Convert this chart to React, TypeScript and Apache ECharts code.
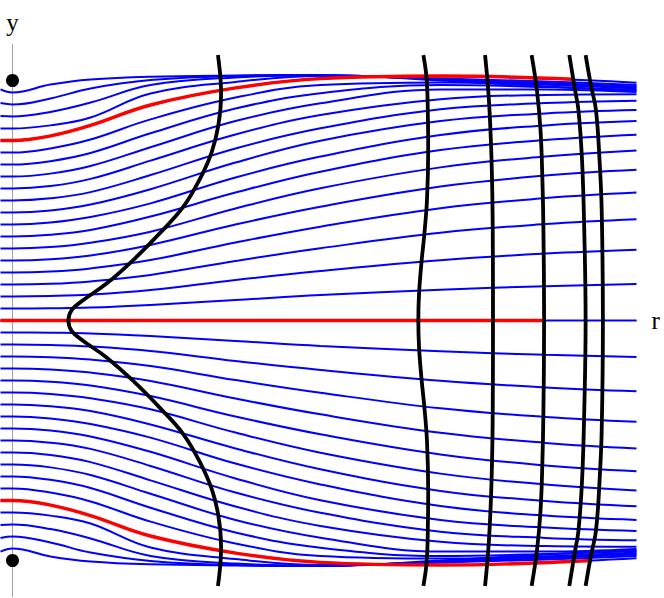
import React, { useEffect, useRef } from "react";
import * as echarts from "echarts";

const R_SAMPLES = [-0.05, 0, 0.158, 0.325, 0.575, 0.929, 1.283, 1.783, 2.221, 2.6];

// blue curves of the upper half (start heights 0.05 … 0.95); y at R_SAMPLES
const BLUE_UPPER: number[][] = [
  [0.05, 0.05, 0.051, 0.054, 0.065, 0.085, 0.106, 0.128, 0.143, 0.152],
  [0.1, 0.1, 0.102, 0.108, 0.127, 0.169, 0.206, 0.251, 0.279, 0.295],
  [0.15, 0.15, 0.153, 0.163, 0.19, 0.248, 0.301, 0.366, 0.402, 0.422],
  [0.2, 0.2, 0.204, 0.217, 0.252, 0.325, 0.391, 0.468, 0.51, 0.533],
  [0.25, 0.25, 0.255, 0.271, 0.315, 0.4, 0.474, 0.558, 0.604, 0.628],
  [0.3, 0.3, 0.306, 0.324, 0.37, 0.467, 0.551, 0.638, 0.683, 0.708],
  [0.35, 0.35, 0.357, 0.377, 0.433, 0.533, 0.62, 0.71, 0.752, 0.774],
  [0.4, 0.4, 0.408, 0.431, 0.488, 0.596, 0.683, 0.773, 0.813, 0.831],
  [0.45, 0.45, 0.458, 0.483, 0.547, 0.658, 0.749, 0.831, 0.863, 0.877],
  [0.5, 0.5, 0.509, 0.535, 0.606, 0.717, 0.801, 0.88, 0.906, 0.916],
  [0.55, 0.55, 0.56, 0.59, 0.666, 0.775, 0.856, 0.922, 0.94, 0.943],
  [0.6, 0.6, 0.612, 0.644, 0.722, 0.831, 0.905, 0.963, 0.963, 0.952],
  [0.65, 0.65, 0.664, 0.698, 0.78, 0.883, 0.947, 0.981, 0.973, 0.96],
  [0.7, 0.7, 0.717, 0.754, 0.838, 0.929, 0.981, 0.992, 0.983, 0.972],
  [0.75, 0.75, 0.769, 0.813, 0.898, 0.969, 1.008, 1.019, 1.008, 0.991],
  [0.8, 0.8, 0.813, 0.846, 0.946, 0.994, 1.019, 1.008, 0.996, 0.981],
  [0.852, 0.85, 0.869, 0.908, 0.981, 1.013, 1.021, 1.006, 0.99, 0.975],
  [0.906, 0.9, 0.925, 0.967, 1.002, 1.019, 1.022, 1.004, 0.983, 0.967],
  [0.963, 0.95, 0.983, 1.004, 1.016, 1.021, 1.023, 1.0, 0.975, 0.958],
];

// the blue family is mirror-symmetric about y = 0 in the picture
const BLUE_CENTER = [0, 0, 0, 0, 0, 0, 0, 0, 0, 0];

// red rays
const RED_TOP_R = [-0.05, 0, 0.158, 0.325, 0.575, 0.929, 1.283, 1.783, 2.335];
const RED_TOP_Y = [0.75, 0.75, 0.769, 0.813, 0.898, 0.969, 1.008, 1.019, 1.005];
const RED_BOTTOM_R = [-0.05, 0, 0.158, 0.325, 0.575, 0.929, 1.283, 1.783, 2.415];
const RED_BOTTOM_Y = [-0.75, -0.75, -0.769, -0.813, -0.898, -0.969, -1.008, -1.019, -1.0];
const RED_MID_R = [-0.05, 2.219];
const RED_MID_Y = [0, 0];

// black fronts: upper half [r, y], from the top end down to the axis
const FRONT_A: number[][] = [
  [0.856, 1.106], [0.868, 0.988], [0.869, 0.94], [0.858, 0.815], [0.83, 0.702],
  [0.781, 0.59], [0.712, 0.474], [0.615, 0.365], [0.503, 0.252], [0.393, 0.155],
  [0.295, 0.085], [0.247, 0.044], [0.233, 0],
];
const FRONT_B: number[][] = [
  [1.712, 1.106], [1.726, 1.002], [1.731, 0.835], [1.732, 0.71], [1.727, 0.502],
  [1.715, 0.349], [1.705, 0.252], [1.694, 0.113], [1.691, 0],
];
const FRONT_C: number[][] = [
  [1.969, 1.106], [1.985, 0.919], [1.996, 0.669], [2.001, 0.377], [2.002, 0],
];
const FRONT_D: number[][] = [
  [2.163, 1.106], [2.185, 0.96], [2.2, 0.794], [2.208, 0.585], [2.212, 0.391], [2.215, 0],
];
const FRONT_E: number[][] = [
  [2.32, 1.106], [2.344, 0.96], [2.358, 0.877], [2.373, 0.669], [2.382, 0.391], [2.388, 0],
];
const FRONT_F: number[][] = [
  [2.388, 1.106], [2.41, 0.981], [2.431, 0.877], [2.446, 0.669], [2.455, 0.46], [2.46, 0],
];

const DOTS: number[][] = [[0, 1], [0, -1]];

const fullFront = (upper: number[][]) => {
  const lower = upper
    .slice(0, upper.length - 1)
    .reverse()
    .map(([r, y]) => [r, -y]);
  return [...upper, ...lower];
};

export default function App() {
  const ref = useRef<HTMLDivElement>(null);
  useEffect(() => {
    document.body.style.margin = "0";
    if (!ref.current) return;
    const chart = echarts.init(ref.current, undefined, { renderer: "svg" });

    const series: any[] = [];
    const blueStyle = { color: "#0000ff", width: 2 };
    const addBlue = (ys: number[]) =>
      series.push({
        type: "line",
        data: R_SAMPLES.map((r, k) => [r, ys[k]]),
        smooth: 0.4,
        showSymbol: false,
        silent: true,
        lineStyle: blueStyle,
        z: 2,
      });
    BLUE_UPPER.forEach((ys) => addBlue(ys));
    BLUE_UPPER.forEach((ys) => addBlue(ys.map((v) => -v)));
    addBlue(BLUE_CENTER);

    const redStyle = { color: "#ff0000", width: 3.4 };
    const addRed = (rs: number[], ys: number[]) =>
      series.push({
        type: "line",
        data: rs.map((r, k) => [r, ys[k]]),
        smooth: 0.4,
        showSymbol: false,
        silent: true,
        lineStyle: redStyle,
        z: 3,
      });
    addRed(RED_TOP_R, RED_TOP_Y);
    addRed(RED_BOTTOM_R, RED_BOTTOM_Y);
    addRed(RED_MID_R, RED_MID_Y);

    [FRONT_A, FRONT_B, FRONT_C, FRONT_D, FRONT_E, FRONT_F].forEach((f) =>
      series.push({
        type: "line",
        data: fullFront(f),
        smooth: 0.4,
        showSymbol: false,
        silent: true,
        lineStyle: { color: "#000000", width: 3.8 },
        z: 4,
      })
    );

    series.push({
      type: "scatter",
      data: DOTS,
      symbolSize: 13,
      itemStyle: { color: "#000000", opacity: 1 },
      silent: true,
      z: 5,
    });

    chart.setOption({
      animation: false,
      backgroundColor: "#ffffff",
      grid: { left: 0.5, width: 636, top: 44.5, height: 552, containLabel: false },
      xAxis: {
        type: "value",
        min: -0.05,
        max: 2.6,
        name: "r",
        nameLocation: "end",
        nameGap: 15,
        nameTextStyle: { fontFamily: "Liberation Serif", fontSize: 25, color: "#000", padding: [8, 0, 0, 0] },
        axisLine: { show: true, onZero: true, lineStyle: { color: "#a0a0a0", width: 1 } },
        axisTick: { show: false },
        axisLabel: { show: false },
        splitLine: { show: false },
      },
      yAxis: {
        type: "value",
        min: -1.15,
        max: 1.15,
        name: "y",
        nameLocation: "end",
        nameGap: 10,
        nameTextStyle: { fontFamily: "Liberation Serif", fontSize: 25, color: "#000" },
        axisLine: { show: true, onZero: true, lineStyle: { color: "#a0a0a0", width: 1 } },
        axisTick: { show: false },
        axisLabel: { show: false },
        splitLine: { show: false },
      },
      series,
    });
    return () => chart.dispose();
  }, []);
  return <div ref={ref} style={{ width: 664, height: 598 }} />;
}
